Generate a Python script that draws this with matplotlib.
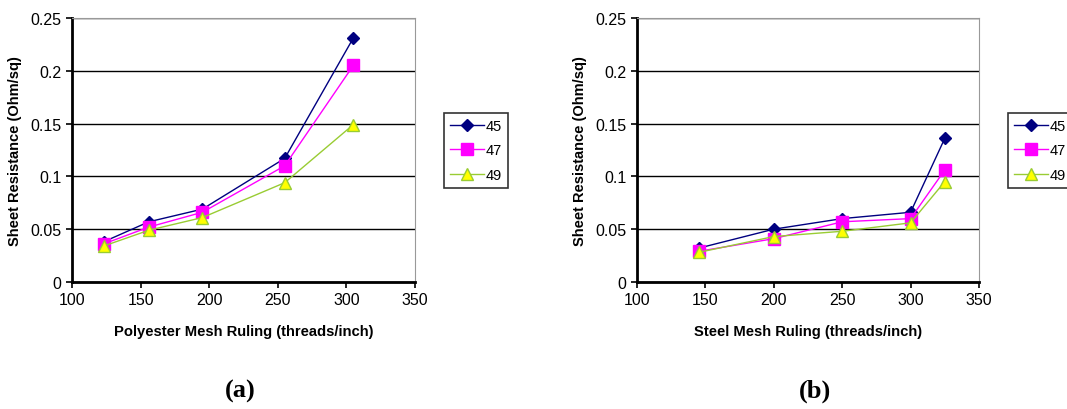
import matplotlib.pyplot as plt

plt.rcParams['font.family'] = ['Liberation Sans', 'DejaVu Sans']

# (a) polyester mesh
poly_x = [123, 156, 195, 255, 305]
poly_45 = [0.038, 0.057, 0.069, 0.117, 0.231]
poly_47 = [0.036, 0.052, 0.066, 0.110, 0.205]
poly_49 = [0.034, 0.049, 0.061, 0.094, 0.149]

# (b) steel mesh
steel_x = [145, 200, 250, 300, 325]
steel_45 = [0.032, 0.050, 0.060, 0.066, 0.136]
steel_47 = [0.029, 0.041, 0.057, 0.060, 0.106]
steel_49 = [0.028, 0.043, 0.048, 0.056, 0.095]

series_names = ["45", "47", "49"]


def dibujar(ax, x, ys, xlabel):
    estilos = [
        dict(color="#000080", marker="D", markersize=6, markerfacecolor="#000080", markeredgecolor="#000080"),
        dict(color="#FF00FF", marker="s", markersize=8, markerfacecolor="#FF00FF", markeredgecolor="#FF00FF"),
        dict(color="#99CC33", marker="^", markersize=8, markerfacecolor="#FFFF00", markeredgecolor="#99CC33"),
    ]
    for y, nombre, st in zip(ys, series_names, estilos):
        ax.plot(x, y, linewidth=1, label=nombre, **st)

    ax.set_xlim(100, 350)
    ax.set_ylim(0, 0.25)
    ax.set_xticks([100, 150, 200, 250, 300, 350])
    ax.set_yticks([0, 0.05, 0.1, 0.15, 0.2, 0.25])
    ax.set_yticklabels(["0", "0.05", "0.1", "0.15", "0.2", "0.25"])
    ax.tick_params(labelsize=11.5, direction="out", length=4, width=1.2)
    ax.yaxis.grid(True, color="black", linewidth=1)
    ax.set_axisbelow(True)

    ax.spines["left"].set_linewidth(2)
    ax.spines["bottom"].set_linewidth(2)
    ax.spines["top"].set_color("#999999")
    ax.spines["right"].set_color("#999999")

    ax.set_xlabel(xlabel, fontsize=10.6, fontweight="bold", labelpad=12)
    ax.set_ylabel("Sheet Resistance (Ohm/sq)", fontsize=10.5, fontweight="bold", labelpad=6)

    leg = ax.legend(loc="upper left", bbox_to_anchor=(1.064, 0.668), fontsize=10.5,
                    frameon=True, fancybox=False, edgecolor="black",
                    handlelength=2.3, borderpad=0.4, labelspacing=0.72, handletextpad=0.15,
                    borderaxespad=0.5)
    leg.get_frame().set_linewidth(1.2)


fig = plt.figure(figsize=(10.67, 4.10), dpi=100)
ax1 = fig.add_axes([0.0675, 0.3098, 0.3215, 0.644])
ax2 = fig.add_axes([0.597, 0.3098, 0.3205, 0.644])

dibujar(ax1, poly_x, [poly_45, poly_47, poly_49], "Polyester Mesh Ruling (threads/inch)")
dibujar(ax2, steel_x, [steel_45, steel_47, steel_49], "Steel Mesh Ruling (threads/inch)")

fig.text(0.225, 0.03, "(a)", fontsize=19, fontweight="bold", family=["Liberation Serif", "DejaVu Serif"], ha="center")
fig.text(0.764, 0.03, "(b)", fontsize=19, fontweight="bold", family=["Liberation Serif", "DejaVu Serif"], ha="center")

fig.savefig("out.png", dpi=100)
